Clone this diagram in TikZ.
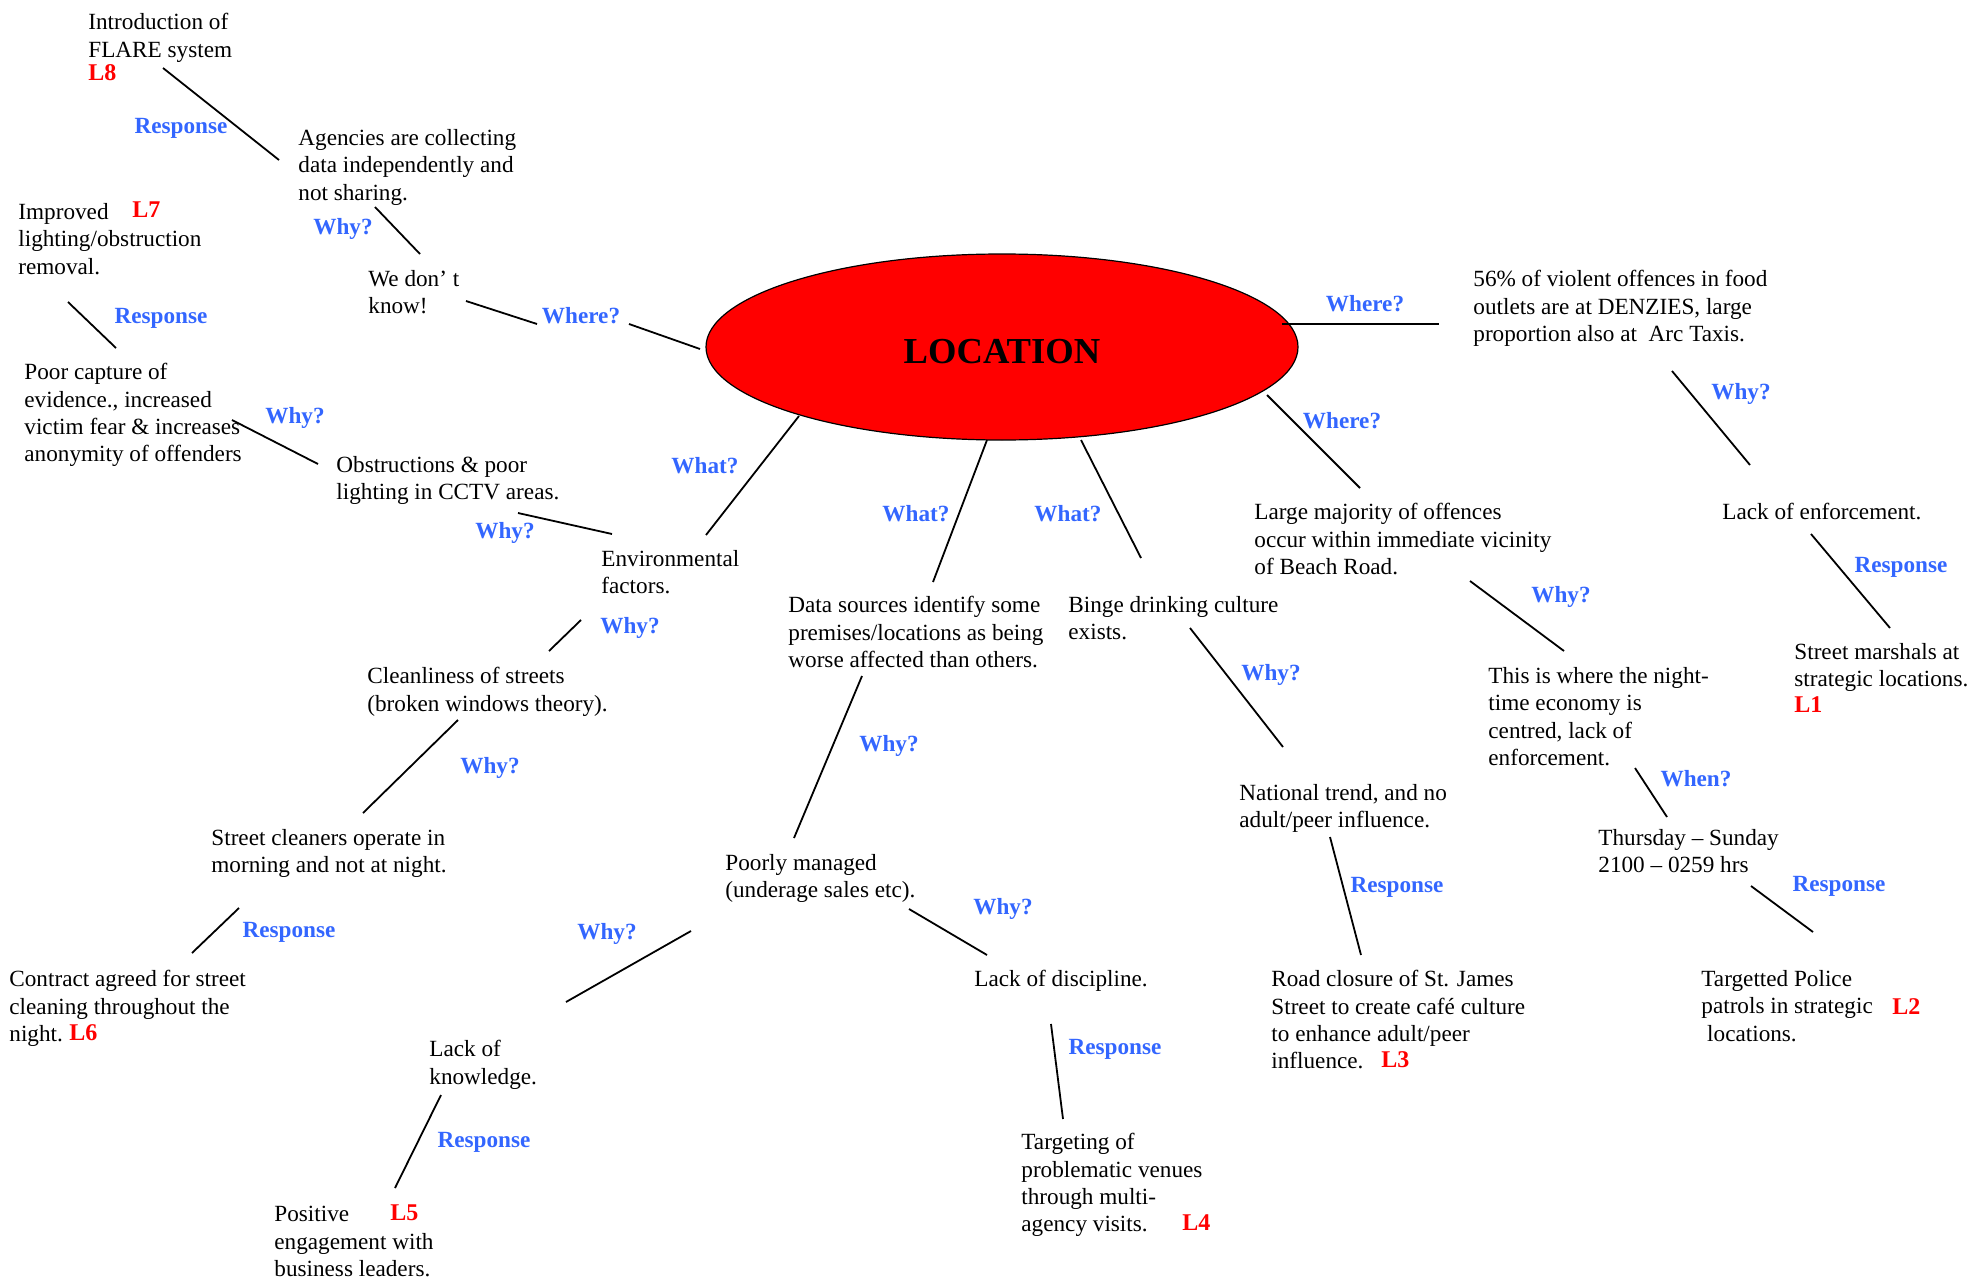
\documentclass[tikz,border=0pt]{standalone}
\usepackage{fontspec}
\setmainfont{Liberation Serif}
\usetikzlibrary{shapes.geometric}
\definecolor{qblue}{RGB}{51,102,255}
\definecolor{lred}{RGB}{255,0,0}
\begin{document}
\begin{tikzpicture}[x=0.5pt,y=-0.5pt,
  txt/.style={anchor=north west, inner sep=0pt, align=left, yshift=-1pt, font=\fontsize{11.6}{13.7}\selectfont},
  q/.style={text=qblue, font=\fontsize{11.6}{13}\selectfont\bfseries, inner sep=0pt, yshift=-0.6pt},
  lvl/.style={text=lred, font=\fontsize{12}{14}\selectfont\bfseries, anchor=west, inner sep=0pt},
  link/.style={line width=0.9pt}]
\useasboundingbox (0,0) rectangle (1971,1279);

% central ellipse
\node[ellipse, draw, fill=red, line width=0.6pt, minimum width=296pt, minimum height=93pt, inner sep=0pt] (loc) at (1002,347) {};
\node[inner sep=0pt, font=\fontsize{18.3}{20}\selectfont\bfseries] (loctxt) at (1002,352) {LOCATION};

% text nodes
\node[txt] (intro) at (88,11) {Introduction of\\FLARE system};
\node[lvl] (l8) at (88,73) {L8};
\node[txt] (agencies) at (298,127) {Agencies are collecting\\data independently and\\not sharing.};
\node[txt] (improved) at (18,201) {Improved\\lighting/obstruction\\removal.};
\node[lvl] (l7) at (132,210) {L7};
\node[txt] (wedont) at (368,268) {We don’ t\\know!};
\node[txt] (poor) at (24,361) {Poor capture of\\evidence., increased\\victim fear \& increases\\anonymity of offenders};
\node[txt] (obstr) at (336,454) {Obstructions \& poor\\lighting in CCTV areas.};
\node[txt] (env) at (601,548) {Environmental\\factors.};
\node[txt] (clean) at (367,665) {Cleanliness of streets\\(broken windows theory).};
\node[txt] (cleaners) at (211,827) {Street cleaners operate in\\morning and not at night.};
\node[txt] (contract) at (9,968) {Contract agreed for street\\cleaning throughout the\\night.};
\node[lvl] (l6) at (69,1033) {L6};
\node[txt] (knowledge) at (429,1038) {Lack of\\knowledge.};
\node[txt] (positive) at (274,1204) {Positive\\engagement with\\business leaders.};
\node[lvl] (l5) at (390,1213) {L5};
\node[txt] (datasrc) at (788,594) {Data sources identify some\\premises/locations as being\\worse affected than others.};
\node[txt] (poorly) at (725,852) {Poorly managed\\(underage sales etc).};
\node[txt] (discipline) at (974,968) {Lack of discipline.};
\node[txt] (targeting) at (1021,1131) {Targeting of\\problematic venues\\through multi-\\agency visits.};
\node[lvl] (l4) at (1182,1223) {L4};
\node[txt] (binge) at (1068,594) {Binge drinking culture\\exists.};
\node[txt] (national) at (1239,782) {National trend, and no\\adult/peer influence.};
\node[txt] (road) at (1271,968) {Road closure of St. James\\Street to create café culture\\to enhance adult/peer\\influence.};
\node[lvl] (l3) at (1381,1060) {L3};
\node[txt] (large) at (1254,501) {Large majority of offences\\occur within immediate vicinity\\of Beach Road.};
\node[txt] (pct) at (1473,268) {56\% of violent offences in food\\outlets are at DENZIES, large\\proportion also at\ \ Arc Taxis.};
\node[txt] (lackenf) at (1722,501) {Lack of enforcement.};
\node[txt] (marshals) at (1794,641) {Street marshals at\\strategic locations.};
\node[lvl] (l1) at (1794,705) {L1};
\node[txt] (nightecon) at (1488,665) {This is where the night-\\time economy is\\centred, lack of\\enforcement.};
\node[txt] (thursday) at (1598,827) {Thursday – Sunday\\2100 – 0259 hrs};
\node[txt] (targetted) at (1701,968) {Targetted Police\\patrols in strategic\\\ locations.};
\node[lvl] (l2) at (1892,1007) {L2};

% question / response labels
\node[q] (q1) at (181,127) {Response};
\node[q] (q2) at (343,228) {Why?};
\node[q] (q3) at (161,317) {Response};
\node[q] (q4) at (581,314) {Where?};
\node[q] (q5) at (295,417) {Why?};
\node[q] (q6) at (505,532) {Why?};
\node[q] (q7) at (705,464) {What?};
\node[q] (q8) at (630,627) {Why?};
\node[q] (q9) at (490,767) {Why?};
\node[q] (q10) at (289,931) {Response};
\node[q] (q11) at (607,933) {Why?};
\node[q] (q12) at (484,1141) {Response};
\node[q] (q13) at (916,512) {What?};
\node[q] (q14) at (889,745) {Why?};
\node[q] (q15) at (1003,908) {Why?};
\node[q] (q16) at (1115,1048) {Response};
\node[q] (q17) at (1068,512) {What?};
\node[q] (q18) at (1271,674) {Why?};
\node[q] (q19) at (1397,886) {Response};
\node[q] (q20) at (1365,302) {Where?};
\node[q] (q21) at (1342,419) {Where?};
\node[q] (q22) at (1741,393) {Why?};
\node[q] (q23) at (1561,596) {Why?};
\node[q] (q24) at (1901,566) {Response};
\node[q] (q25) at (1696,777) {When?};
\node[q] (q26) at (1839,885) {Response};

% connectors
\draw[link] (163,68) -- (279,160);
\draw[link] (375,207) -- (420,254);
\draw[link] (466,301) -- (537,324);
\draw[link] (629,324) -- (700,349);
\draw[link] (68,302) -- (116,348);
\draw[link] (232,420) -- (318,464);
\draw[link] (518,513) -- (612,534);
\draw[link] (706,535) -- (799,416);
\draw[link] (581,620) -- (549,651);
\draw[link] (458,720) -- (363,813);
\draw[link] (239,908) -- (192,953);
\draw[link] (691,931) -- (566,1002);
\draw[link] (441,1095) -- (395,1188);
\draw[link] (933,582) -- (987,440);
\draw[link] (862,676) -- (794,838);
\draw[link] (909,909) -- (987,955);
\draw[link] (1051,1024) -- (1063,1119);
\draw[link] (1081,440) -- (1141,558);
\draw[link] (1190,628) -- (1283,747);
\draw[link] (1330,837) -- (1361,955);
\draw[link] (1282,324) -- (1439,324);
\draw[link] (1267,395) -- (1360,488);
\draw[link] (1672,371) -- (1750,465);
\draw[link] (1811,534) -- (1890,628);
\draw[link] (1470,581) -- (1564,651);
\draw[link] (1635,768) -- (1667,817);
\draw[link] (1751,886) -- (1813,932);
\end{tikzpicture}
\end{document}
